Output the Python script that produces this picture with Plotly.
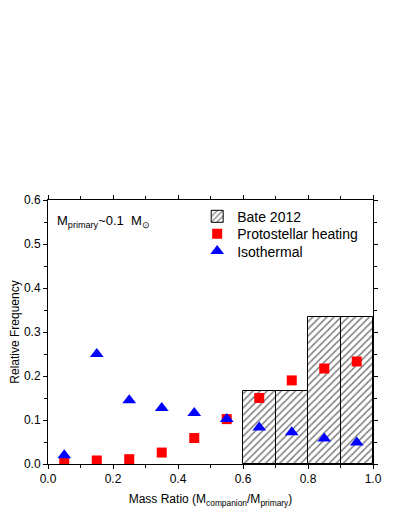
import plotly.graph_objects as go

# Data
bin_centers = [0.05, 0.15, 0.25, 0.35, 0.45, 0.55, 0.65, 0.75, 0.85, 0.95]
bate_x = [0.65, 0.75, 0.85, 0.95]
bate_y = [0.167, 0.167, 0.333, 0.333]
proto_y = [0.003, 0.008, 0.011, 0.026, 0.059, 0.102, 0.150, 0.190, 0.217, 0.233]
iso_y = [0.020, 0.250, 0.145, 0.127, 0.116, 0.102, 0.083, 0.072, 0.058, 0.049]

FONT = "Liberation Sans, Arial, sans-serif"

fig = go.Figure()
fig.add_trace(go.Bar(
    x=bate_x, y=bate_y, width=0.1, name="Bate 2012", legend="legend",
    marker=dict(color="white", line=dict(color="black", width=1),
                pattern=dict(shape="/", fgcolor="black", bgcolor="white", size=5, solidity=0.3)),
))
fig.add_trace(go.Scatter(
    x=bin_centers, y=proto_y, mode="markers", name="Protostellar heating", legend="legend2",
    marker=dict(symbol="square", size=10, color="#FF0000"),
))
fig.add_trace(go.Scatter(
    x=bin_centers, y=iso_y, mode="markers", name="Isothermal", legend="legend3",
    marker=dict(symbol="triangle-up", size=12, color="#0000FF"),
))

axis_common = dict(
    showline=True, linecolor="black", linewidth=1, mirror="ticks",
    ticks="outside", ticklen=4, tickwidth=1, tickcolor="black",
    showgrid=False, zeroline=False, automargin=False,
    tickfont=dict(family=FONT, size=12, color="black"),
)
fig.update_xaxes(range=[0, 1.0], tickvals=[0, 0.2, 0.4, 0.6, 0.8, 1.0], tickformat=".1f",
                 minor=dict(dtick=0.1, tick0=0, ticks="outside", ticklen=3, tickcolor="black"),
                 title=dict(text="Mass Ratio (M<sub>companion</sub>/M<sub>primary</sub>)",
                            font=dict(family=FONT, size=12, color="black"), standoff=9),
                 **axis_common)
fig.update_yaxes(range=[0, 0.6], tickvals=[0, 0.1, 0.2, 0.3, 0.4, 0.5, 0.6], tickformat=".1f",
                 minor=dict(dtick=0.05, tick0=0, ticks="outside", ticklen=3, tickcolor="black"),
                 title=dict(text="Relative Frequency",
                            font=dict(family=FONT, size=12, color="black"), standoff=8),
                 **axis_common)

fig.add_annotation(xref="paper", yref="paper", x=0.022, y=0.918, xanchor="left", yanchor="middle",
                   text="M<sub>primary</sub>~0.1  M<sub>⊙</sub>", showarrow=False,
                   font=dict(family=FONT, size=13, color="black"))

leg_common = dict(x=0.459, xanchor="left", yanchor="middle", bgcolor="rgba(0,0,0,0)",
                  itemwidth=30, font=dict(family=FONT, size=14, color="black"))

fig.update_layout(
    width=387, height=503,
    margin=dict(l=40, r=22, t=192, b=47),
    plot_bgcolor="white", paper_bgcolor="white",
    bargap=0,
    showlegend=True,
    legend=dict(y=0.9367, **leg_common),
    legend2=dict(y=0.871, **leg_common),
    legend3=dict(y=0.805, **leg_common),
)

fig.write_html("out.html")
